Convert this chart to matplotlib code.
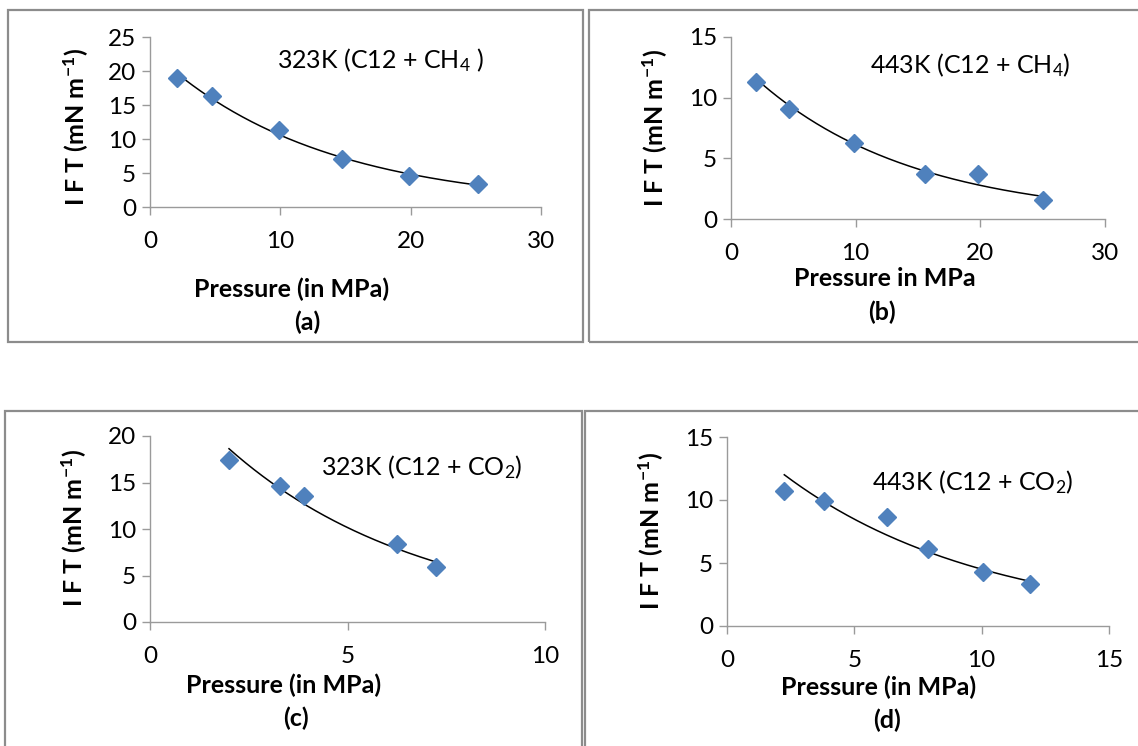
import numpy as np
import matplotlib
matplotlib.use("Agg")
import matplotlib.pyplot as plt
from matplotlib.patches import Rectangle

plt.rcParams.update({
    "font.family": ["Lato", "DejaVu Sans"],
    "mathtext.fontset": "custom",
    "mathtext.rm": "Lato",
    "mathtext.bf": "Lato:bold",
    "mathtext.default": "regular",
    "axes.unicode_minus": False,
})

MARK = "#4f81bd"
AXC = "#9a9a9a"
BOX = "#8c8c8c"

# (a) 323 K, C12 + CH4
p_a = [2.1, 4.75, 9.9, 14.75, 19.9, 25.2]
ift_a = [19.0, 16.3, 11.3, 7.05, 4.55, 3.35]
# (b) 443 K, C12 + CH4
p_b = [2.0, 4.65, 9.9, 15.55, 19.85, 25.0]
ift_b = [11.3, 9.1, 6.3, 3.7, 3.72, 1.55]
# (c) 323 K, C12 + CO2
p_c = [2.0, 3.3, 3.9, 6.25, 7.25]
ift_c = [17.4, 14.6, 13.55, 8.4, 5.95]
# (d) 443 K, C12 + CO2
p_d = [2.25, 3.8, 6.3, 7.9, 10.05, 11.9]
ift_d = [10.7, 9.9, 8.65, 6.1, 4.25, 3.35]

fig = plt.figure(figsize=(11.38, 7.46), dpi=100)
W, H = 1138, 746


def px(x0, y0, x1, y1):
    # pixel box (top-left origin) -> figure fraction rect
    return [x0 / W, 1 - y1 / H, (x1 - x0) / W, (y1 - y0) / H]


def txt(x, y, s, **kw):
    fig.text(x / W, 1 - y / H, s, **kw)


# panel frames
for (x0, y0, x1, y1) in [(8, 10, 583, 342), (589, 10, 1140, 342),
                         (5, 411, 582, 760), (585, 411, 1140, 760)]:
    fig.patches.append(Rectangle((x0 / W, 1 - y1 / H), (x1 - x0) / W, (y1 - y0) / H,
                                 transform=fig.transFigure, fill=False,
                                 edgecolor=BOX, lw=1.6, zorder=0))


def panel(rect, x, y, xmax, ymax, step_x, step_y):
    ax = fig.add_axes(px(*rect))
    x = np.array(x); y = np.array(y)
    # Excel-style exponential trendline
    b, a = np.polyfit(x, np.log(y), 1)
    xx = np.linspace(x.min(), x.max(), 200)
    ax.plot(xx, np.exp(a + b * xx), color="black", lw=1.1, zorder=2)
    ax.plot(x, y, "D", ms=9.5, color=MARK, mec=MARK, zorder=3, clip_on=False)
    ax.set_xlim(0, xmax); ax.set_ylim(0, ymax)
    ax.set_xticks(np.arange(0, xmax + 0.1, step_x))
    ax.set_yticks(np.arange(0, ymax + 0.1, step_y))
    for s in ["top", "right"]:
        ax.spines[s].set_visible(False)
    for s in ["left", "bottom"]:
        ax.spines[s].set_color(AXC); ax.spines[s].set_linewidth(1.0)
    ax.tick_params(direction="out", length=6, width=1.0, color=AXC,
                   labelsize=17.5, pad=4)
    ax.tick_params(axis="x", pad=11)
    return ax


ax_a = panel((150, 37, 541, 207), p_a, ift_a, 30, 25, 10, 5)
ax_b = panel((731, 37, 1105, 219), p_b, ift_b, 30, 15, 10, 5)
ax_c = panel((150, 436, 545, 622), p_c, ift_c, 10, 20, 5, 5)
ax_d = panel((727, 437, 1109, 626), p_d, ift_d, 15, 15, 5, 5)

ylab = r"I F T (mN m$^{-1}$)"
lab_kw = dict(fontsize=18, fontweight="bold", ha="center", va="center")
for (x, y) in [(76, 127), (655, 128), (74, 528), (651, 531)]:
    txt(x, y, ylab, rotation=90, **lab_kw)

txt(292, 289, "Pressure (in MPa)", **lab_kw)
txt(885, 279, "Pressure in MPa", **lab_kw)
txt(284, 685, "Pressure (in MPa)", **lab_kw)
txt(879, 687, "Pressure (in MPa)", **lab_kw)

txt(307, 322, "(a)", **lab_kw)
txt(882, 312, "(b)", **lab_kw)
txt(296, 718, "(c)", **lab_kw)
txt(887, 720, "(d)", **lab_kw)

ann_kw = dict(fontsize=18, ha="left", va="center")
txt(277, 60, r"323K (C12 + CH$_4$ )", **ann_kw)
txt(870, 65, r"443K (C12 + CH$_4$)", **ann_kw)
txt(321, 467, r"323K (C12 + CO$_2$)", **ann_kw)
txt(872, 482, r"443K (C12 + CO$_2$)", **ann_kw)

fig.savefig("out.png", dpi=100)
